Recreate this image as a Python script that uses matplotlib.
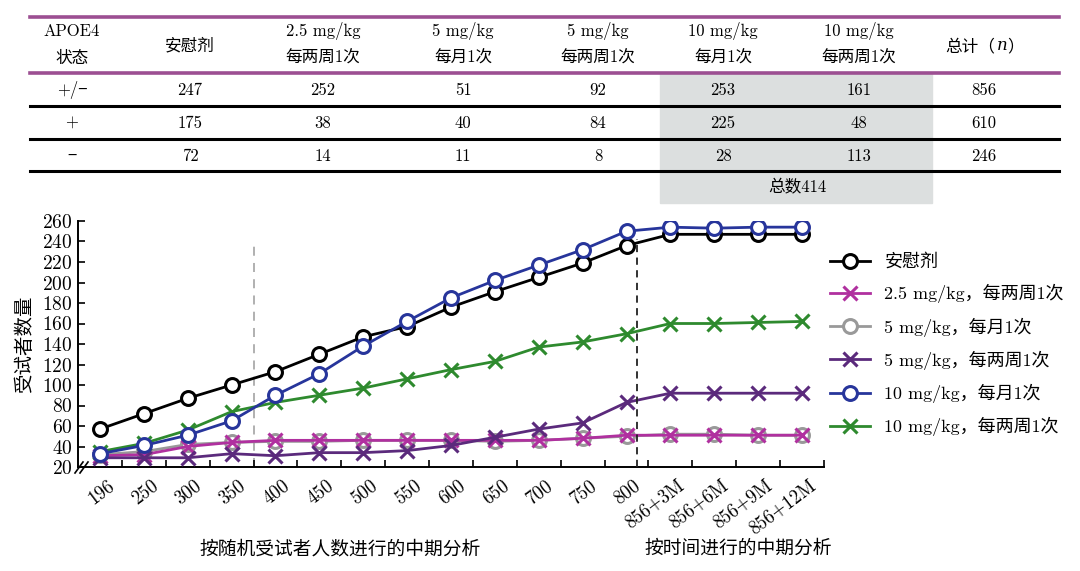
import numpy as np
import matplotlib
matplotlib.use('Agg')
import matplotlib.pyplot as plt
from matplotlib.lines import Line2D
from matplotlib.patches import Rectangle
from matplotlib.transforms import ScaledTranslation

plt.rcParams['font.family'] = ['cmr10', 'Noto Sans CJK SC', 'DejaVu Sans']
plt.rcParams['axes.formatter.use_mathtext'] = True
plt.rcParams['mathtext.fontset'] = 'cm'

# ---------------- data ----------------
categories = ['196', '250', '300', '350', '400', '450', '500', '550', '600', '650',
              '700', '750', '800', '856+3M', '856+6M', '856+9M', '856+12M']

placebo = [57, 72, 87, 100, 113, 130, 147, 157, 176, 191, 205, 219, 236, 247, 247, 247, 247]
mg25_q2w = [31, 32, 40, 44, 46, 46, 46, 46, 46, 46, 46, 48, 51, 51, 51, 51, 51]
mg5_q4w = [32, 35, 42, 44, 45, 45, 46, 46, 46, 45, 46, 48, 50, 52, 52, 51, 51]
mg5_q2w = [29, 29, 29, 33, 31, 34, 34, 36, 41, 49, 57, 63, 83, 92, 92, 92, 92]
mg10_q4w = [33, 41, 51, 65, 90, 111, 138, 162, 185, 202, 217, 232, 250, 254, 253, 254, 254]
mg10_q2w = [35, 43, 56, 74, 83, 90, 97, 106, 115, 123, 137, 142, 150, 160, 160, 161, 162]

series_labels = ['安慰剂', '2.5 mg/kg，每两周1次', '5 mg/kg，每月1次',
                 '5 mg/kg，每两周1次', '10 mg/kg，每月1次', '10 mg/kg，每两周1次']

# table
tbl_head1 = ['APOE4', '', '2.5 mg/kg', '5 mg/kg', '5 mg/kg', '10 mg/kg', '10 mg/kg', '']
tbl_head2 = ['状态', '', '每两周1次', '每月1次', '每两周1次', '每月1次', '每两周1次', '']
tbl_head_single = ['', '安慰剂', '', '', '', '', '', '']
tbl_status = ['+/\u2212', '+', '\u2212']
tbl_values = [[247, 252, 51, 92, 253, 161, 856],
              [175, 38, 40, 84, 225, 48, 610],
              [72, 14, 11, 8, 28, 113, 246]]
tbl_subtotal = '总数414'

W, H = 1080, 571
fig = plt.figure(figsize=(W / 100, H / 100), dpi=100)

def fx(p):
    return p / W

def fy(p):
    return 1 - p / H

# ---------------- table ----------------
col_x = [72, 190, 323, 463, 598, 723, 859, 984]
row_y = [90, 123, 156]
tfs = 12

fig.patches.append(Rectangle((fx(660), fy(203)), fx(932) - fx(660), fy(73) - fy(203),
                             transform=fig.transFigure, color='#dcdfdf', zorder=0))

for yy, col, lw in [(17, '#9c4f92', 2.6), (73, '#9c4f92', 2.6),
                    (106, 'black', 2.2), (139, 'black', 2.2), (171, 'black', 2.2)]:
    fig.add_artist(Line2D([fx(30), fx(1059)], [fy(yy), fy(yy)], color=col, lw=lw))

for cx, t1, t2, ts in zip(col_x, tbl_head1, tbl_head2, tbl_head_single):
    if t1:
        fig.text(fx(cx), fy(31), t1, ha='center', va='center', fontsize=tfs)
        fig.text(fx(cx), fy(58), t2, ha='center', va='center', fontsize=tfs)
    if ts:
        fig.text(fx(cx), fy(46), ts, ha='center', va='center', fontsize=tfs)

# 总计（n）
fig.text(fx(995), fy(46), '总计（', ha='right', va='center', fontsize=tfs)
fig.text(fx(997), fy(46), 'n', ha='left', va='center', fontsize=tfs,
         family='DejaVu Serif', style='italic')
fig.text(fx(1007), fy(46), '）', ha='left', va='center', fontsize=tfs)

for ry, st, vals in zip(row_y, tbl_status, tbl_values):
    fig.text(fx(col_x[0]), fy(ry), st, ha='center', va='center', fontsize=tfs)
    for cx, v in zip(col_x[1:], vals):
        fig.text(fx(cx), fy(ry), str(v), ha='center', va='center', fontsize=tfs)

fig.text(fx(797), fy(187), tbl_subtotal, ha='center', va='center', fontsize=tfs)

# ---------------- chart ----------------
ax = fig.add_axes([fx(78), fy(467), fx(824) - fx(78), fy(221) - fy(467)])
x = np.arange(len(categories))

styles = [
    (placebo, 'black', 'o', 6),
    (mg25_q2w, '#b0309f', 'x', 4),
    (mg5_q4w, '#999999', 'o', 3),
    (mg5_q2w, '#5b2a7c', 'x', 5),
    (mg10_q4w, '#27359b', 'o', 7),
    (mg10_q2w, '#2e8a2e', 'x', 4.5),
]
for (vals, col, mk, z), lab in zip(styles, series_labels):
    if mk == 'o':
        ax.plot(x, vals, color=col, lw=2.0, marker='o', ms=10, mew=2.2,
                mfc='white', mec=col, label=lab, zorder=z)
    else:
        ax.plot(x, vals, color=col, lw=2.0, marker='x', ms=10, mew=2.2,
                label=lab, zorder=z)

ax.vlines(3.5, 20, 237, color='#aaaaaa', lw=1.3, linestyles=(0, (5, 4)), zorder=1)
ax.vlines(12.24, 20, 242, color='#222222', lw=1.3, linestyles=(0, (4, 3)), zorder=8)

ax.set_xlim(-0.5, 16.5)
ax.set_ylim(20, 260)
ax.set_yticks(np.arange(20, 261, 20))
ax.tick_params(axis='y', direction='in', length=5, width=1.2, labelsize=14, pad=4)
ax.set_xticks(x)
ax.set_xticklabels(categories, rotation=37, ha='right', va='top', rotation_mode='anchor')
ax.set_xticks(np.arange(0.5, 16.6, 1), minor=True)
ax.tick_params(axis='x', which='major', length=0, labelsize=13.5, pad=7)
ax.tick_params(axis='x', which='minor', direction='in', length=5, width=1.2)
for lbl in ax.get_xticklabels():
    lbl.set_transform(lbl.get_transform() + ScaledTranslation(0.07, 0, fig.dpi_scale_trans))

for s in ['top', 'right']:
    ax.spines[s].set_visible(False)
for s in ['left', 'bottom']:
    ax.spines[s].set_linewidth(1.4)

# axis break marks
for dx in (0, 5):
    fig.add_artist(Line2D([fx(75 + dx), fx(83 + dx)], [fy(473), fy(462)], color='black', lw=1.2))

ax.set_ylabel('受试者数量', fontsize=14, labelpad=6)

fig.text(fx(340), fy(549), '按随机受试者人数进行的中期分析', ha='center', va='center', fontsize=13.5)
fig.text(fx(738), fy(549), '按时间进行的中期分析', ha='center', va='center', fontsize=13.5)

ax.legend(loc='upper left', bbox_to_anchor=(fx(823), fy(246)), bbox_transform=fig.transFigure,
          frameon=False, fontsize=13, handlelength=2.2, labelspacing=0.78, handletextpad=0.8,
          borderaxespad=0)

fig.savefig('out.png', dpi=100)
